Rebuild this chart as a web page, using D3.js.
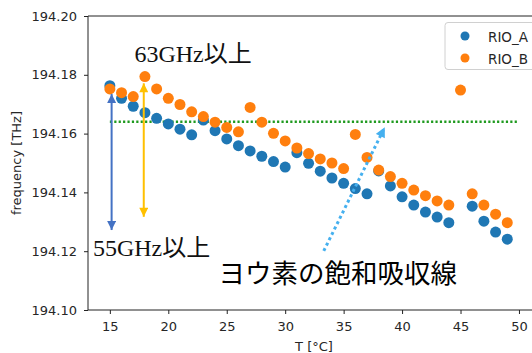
<!DOCTYPE html>
<html>
<head>
<meta charset="utf-8">
<script src="https://cdn.jsdelivr.net/npm/d3@7"></script>
<style>
  body { margin: 0; background: #fff; }
  svg { display: block; }
</style>
</head>
<body>
<div id="chart"></div>
<script>
// RIO_A (no point at 45)
var tempA = [15, 16, 17, 18, 19, 20, 21, 22, 23, 24, 25, 26, 27, 28, 29, 30, 31, 32,
             33, 34, 35, 36, 37, 38, 39, 40, 41, 42, 43, 44, 46, 47, 48, 49];
var freqA = [194.1763, 194.1720, 194.1693, 194.1671, 194.1652, 194.1633, 194.1615, 194.1596,
             194.1646, 194.1610, 194.1582, 194.1559, 194.1541, 194.1523, 194.1505, 194.1486,
             194.1535, 194.1499, 194.1472, 194.1449, 194.1431, 194.1413, 194.1395, 194.1473,
             194.1422, 194.1385, 194.1357, 194.1333, 194.1316, 194.1297, 194.1353, 194.1302,
             194.1265, 194.1241];

// RIO_B
var tempB = [15, 16, 17, 18, 19, 20, 21, 22, 23, 24, 25, 26, 27, 28, 29, 30, 31, 32,
             33, 34, 35, 36, 37, 38, 39, 40, 41, 42, 43, 44, 45, 46, 47, 48, 49];
var freqB = [194.1752, 194.1739, 194.1726, 194.1794, 194.1752, 194.1720, 194.1699, 194.1674,
             194.1658, 194.1639, 194.1621, 194.1606, 194.1689, 194.1639, 194.1601, 194.1575,
             194.1551, 194.1532, 194.1514, 194.1500, 194.1481, 194.1597, 194.1519, 194.1476,
             194.1454, 194.1431, 194.1408, 194.1389, 194.1371, 194.1357, 194.1748, 194.1395,
             194.1357, 194.1326, 194.1297];

var seriesNames = ["RIO_A", "RIO_B"];
var seriesColors = ["#1f77b4", "#ff7f0e"];

var xTicks = [15, 20, 25, 30, 35, 40, 45, 50];
var yTicks = [194.10, 194.12, 194.14, 194.16, 194.18, 194.20];

// iodine saturated absorption line (green dotted), [T start, T end, freq]
var lineIodine = [15, 50, 194.164];

// annotation arrows: [T1, f1, T2, f2]
var arrowBlue = [15.15, 194.1735, 15.15, 194.1272];
var arrowGold = [17.9, 194.1771, 17.9, 194.1317];
var arrowSky = [33.3, 194.1201, 38.52, 194.1622];

// annotation texts: [T, f, text]
var labels = [
    [17.1, 194.1843, "63GHz以上"],
    [13.55, 194.1182, "55GHz以上"]
];
var labelIodine = [24.3, 194.1091, "ヨウ素の飽和吸収線"];

var W = 532, H = 353;
var padL = 88, padT = 16, padB = 310, padR = 540;

var svg = d3.select("#chart").append("svg")
    .attr("width", W)
    .attr("height", H)
    .style("font-family", "'DejaVu Sans', sans-serif");

var x = d3.scaleLinear().domain([13.13, 51.8]).range([padL, padR]);
var y = d3.scaleLinear().domain([194.10, 194.20]).range([padB, padT]);

var defs = svg.append("defs");
function arrowMarker(id, color, w, l) {
    defs.append("marker")
        .attr("id", id)
        .attr("markerUnits", "userSpaceOnUse")
        .attr("viewBox", "0 -5 10 10")
        .attr("refX", 10)
        .attr("refY", 0)
        .attr("markerWidth", l)
        .attr("markerHeight", w)
        .attr("orient", "auto-start-reverse")
      .append("path")
        .attr("d", "M0,-5L10,0L0,5Z")
        .attr("fill", color);
}
arrowMarker("headBlue", "#4472c4", 9, 11);
arrowMarker("headGold", "#ffc000", 9, 11);
arrowMarker("headSky", "#45b0ef", 10, 11);

// axes
var xAxis = d3.axisBottom(x).tickValues(xTicks).tickSize(4).tickPadding(8)
    .tickFormat(d3.format("d"));
var yAxis = d3.axisLeft(y).tickValues(yTicks).tickSize(4).tickPadding(7)
    .tickFormat(d3.format(".2f"));

var gx = svg.append("g").attr("transform", "translate(0," + padB + ")").call(xAxis);
var gy = svg.append("g").attr("transform", "translate(" + padL + ",0)").call(yAxis);
[gx, gy].forEach(function(g) {
    g.select(".domain").remove();
    g.selectAll("line").attr("stroke", "#222").attr("stroke-width", 1);
    g.selectAll("text").attr("fill", "#262626").style("font-size", "13px")
        .style("font-family", "'DejaVu Sans', sans-serif");
});

// spines
svg.append("path")
    .attr("d", "M" + padL + "," + padT + "H" + padR + "M" + padL + "," + padT + "V" + padB + "H" + padR)
    .attr("fill", "none")
    .attr("stroke", "#222")
    .attr("stroke-width", 1);

// axis labels
svg.append("text")
    .attr("x", (padL + padR) / 2)
    .attr("y", 351)
    .attr("text-anchor", "middle")
    .attr("fill", "#262626")
    .style("font-size", "13px")
    .text("T [°C]");

svg.append("text")
    .attr("transform", "translate(21," + ((padT + padB) / 2) + ") rotate(-90)")
    .attr("text-anchor", "middle")
    .attr("fill", "#262626")
    .style("font-size", "13px")
    .text("frequency [THz]");

// green dotted line
svg.append("line")
    .attr("x1", x(lineIodine[0]))
    .attr("x2", x(lineIodine[1]))
    .attr("y1", y(lineIodine[2]))
    .attr("y2", y(lineIodine[2]))
    .attr("stroke", "#1f9a1f")
    .attr("stroke-width", 2.5)
    .attr("stroke-dasharray", "2.2,2.2");

// points
function drawSeries(temps, freqs, color) {
    svg.append("g").selectAll("circle")
        .data(temps.map(function(t, i) { return [t, freqs[i]]; }))
      .enter().append("circle")
        .attr("cx", function(d) { return x(d[0]); })
        .attr("cy", function(d) { return y(d[1]); })
        .attr("r", 5.5)
        .attr("fill", color);
}
drawSeries(tempA, freqA, seriesColors[0]);
drawSeries(tempB, freqB, seriesColors[1]);

// arrows
function drawArrow(a, color, width, dash, both, head) {
    var ln = svg.append("line")
        .attr("x1", x(a[0])).attr("y1", y(a[1]))
        .attr("x2", x(a[2])).attr("y2", y(a[3]))
        .attr("stroke", color)
        .attr("stroke-width", width)
        .attr("marker-end", "url(#" + head + ")");
    if (both) ln.attr("marker-start", "url(#" + head + ")");
    if (dash) ln.attr("stroke-dasharray", dash);
}
drawArrow(arrowBlue, "#4472c4", 2, null, true, "headBlue");
drawArrow(arrowGold, "#ffc000", 2, null, true, "headGold");
drawArrow(arrowSky, "#45b0ef", 3, "3,3", false, "headSky");

// texts
svg.append("g").selectAll("text")
    .data(labels)
  .enter().append("text")
    .attr("x", function(d) { return x(d[0]); })
    .attr("y", function(d) { return y(d[1]); })
    .attr("fill", "#111")
    .style("font-family", "'Liberation Serif', 'Noto Sans CJK JP', serif")
    .style("font-size", "24px")
    .text(function(d) { return d[2]; });

svg.append("text")
    .attr("x", x(labelIodine[0]))
    .attr("y", y(labelIodine[1]))
    .attr("fill", "#000")
    .style("font-family", "'Noto Sans CJK JP', sans-serif")
    .style("font-size", "26.5px")
    .text(labelIodine[2]);

// legend
var lg = svg.append("g").attr("transform", "translate(445,22.5)");
lg.append("rect")
    .attr("width", 110)
    .attr("height", 47)
    .attr("rx", 3)
    .attr("fill", "#fff")
    .attr("fill-opacity", 0.8)
    .attr("stroke", "#d0d0d0");
seriesNames.forEach(function(name, i) {
    lg.append("circle")
        .attr("cx", 20)
        .attr("cy", 13.5 + i * 22)
        .attr("r", 4.5)
        .attr("fill", seriesColors[i]);
    lg.append("text")
        .attr("x", 43)
        .attr("y", 19 + i * 22)
        .attr("fill", "#262626")
        .style("font-size", "13.5px")
        .text(name);
});
</script>
</body>
</html>
